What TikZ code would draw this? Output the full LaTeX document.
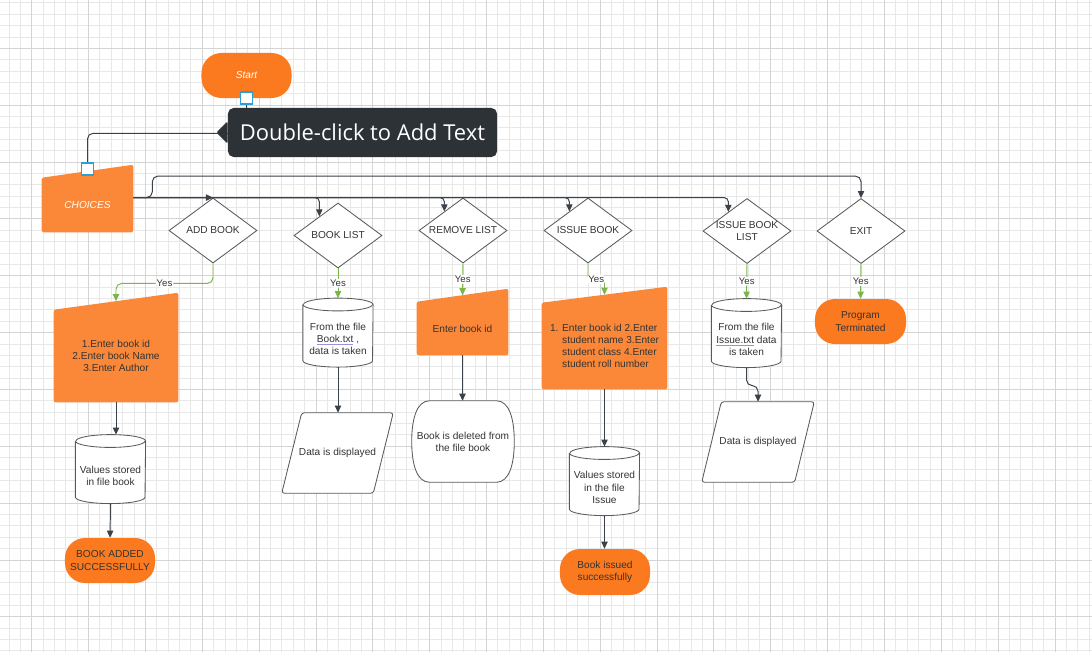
\documentclass[tikz,border=0pt]{standalone}
\usepackage{fontspec}
\setmainfont{Liberation Sans}
\newfontfamily\tipfont{Open Sans}
\usetikzlibrary{arrows.meta,positioning,shapes.geometric,calc}

\definecolor{orterm}{HTML}{FC7A1F}
\definecolor{orin}{HTML}{FA8838}
\definecolor{ink}{HTML}{333333}
\definecolor{wire}{HTML}{3B4148}
\definecolor{edge}{HTML}{5A5A5A}
\definecolor{leaf}{HTML}{7AB648}
\definecolor{tipbg}{HTML}{2D3237}
\definecolor{pick}{HTML}{2A9FD8}
\definecolor{gridminor}{HTML}{E8E8E8}
\definecolor{gridmajor}{HTML}{D4D4D4}
\definecolor{linkline}{HTML}{9A8FD8}

\pgfdeclarelayer{background}
\pgfsetlayers{background,main}

\newcommand{\lucid}{\fontsize{7.2pt}{8.7pt}\selectfont}
\newlength{\lnkwd}
\newcommand{\lnk}[1]{\settowidth{\lnkwd}{#1}\rlap{\color{linkline}\rule[-1.6pt]{\lnkwd}{0.6pt}}#1}

% outlines drawn round a node
\newcommand{\manualtop}[2]{%
  \fill[orin, rounded corners=1.5pt] (#1.south west) -- (#1.north west)
    -- ([yshift=#2]#1.north east) -- (#1.south east) -- cycle;}
\newcommand{\drum}[1]{%
  \draw[shapeline, fill=white] ([yshift=0.16cm]#1.north west) -- ([yshift=0.16cm]#1.south west)
    arc[start angle=180, end angle=360, x radius=0.87cm, y radius=0.16cm]
    -- ([yshift=0.16cm]#1.north east)
    arc[start angle=0, end angle=180, x radius=0.87cm, y radius=0.16cm];
  \draw[shapeline] ([yshift=0.16cm]#1.north west)
    arc[start angle=180, end angle=360, x radius=0.87cm, y radius=0.16cm];}
\newcommand{\slantbox}[2]{%
  \draw[shapeline, fill=white, rounded corners=2pt] (#1.south west) -- ([xshift=-#2]#1.south east)
    -- (#1.north east) -- ([xshift=#2]#1.north west) -- cycle;}
\newcommand{\bulgebox}[1]{%
  \draw[shapeline, fill=white] ([xshift=0.45cm]#1.north west) -- ([xshift=-0.45cm]#1.north east)
    .. controls ([xshift=-0.12cm]#1.north east) and ([yshift=0.55cm]#1.east) .. (#1.east)
    .. controls ([yshift=-0.55cm]#1.east) and ([xshift=-0.12cm]#1.south east) .. ([xshift=-0.45cm]#1.south east)
    -- ([xshift=0.45cm]#1.south west)
    .. controls ([xshift=0.12cm]#1.south west) and ([yshift=-0.55cm]#1.west) .. (#1.west)
    .. controls ([yshift=0.55cm]#1.west) and ([xshift=0.12cm]#1.north west) .. cycle;}

\tikzset{%
  % Specifications for style of arrows:
   flow/.style={
           draw=wire,
           line width=0.7pt,
           rounded corners=3pt,
           -{Triangle[length=5pt,width=4.5pt]},},
   yesflow/.style={
           flow,
           draw=leaf},
   yeslabel/.style={
           fill=white, inner sep=0.8pt, text=ink,
           font=\fontsize{6.8pt}{8pt}\selectfont},
   shapeline/.style={draw=edge, line width=0.6pt},
   minorgrid/.style={draw=gridminor, line width=0.6pt},
   majorgrid/.style={draw=gridmajor, line width=0.6pt},
  % Specifications for style of nodes:
   terminal/.style = {rectangle, rounded corners=0.5cm, fill=orterm,
                  minimum width=2.25cm, minimum height=1.125cm, inner sep=1pt,
                  text=ink, align=center, font=\lucid},
   decision/.style = {diamond, draw=edge, fill=white, line width=0.6pt,
                  minimum width=2.2cm, minimum height=1.625cm, aspect=1.35,
                  inner sep=0pt, text=ink, align=center, font=\lucid},
   inputbox/.style = {rectangle, inner sep=1pt,
                  text=ink, align=center, font=\lucid},
   drumbox/.style = {rectangle, minimum width=1.74cm, minimum height=1.39cm,
                  inner sep=1pt, text=ink, align=center, font=\lucid},
   datashape/.style = {rectangle, minimum height=2cm, inner sep=1pt,
                  text=ink, align=center, font=\lucid},
   grip/.style = {rectangle, draw=pick, fill=white, line width=1.2pt,
                  minimum size=0.3cm, inner sep=0pt},
   tooltip/.style = {rectangle, rounded corners=4pt, fill=tipbg, text=white,
                  minimum width=6.725cm, minimum height=1.225cm, inner sep=0pt,
                  font={\tipfont\fontsize{15.6pt}{18pt}\selectfont}},
}

\begin{document}
\begin{tikzpicture}[x=0.025cm, y=-0.025cm]
  \useasboundingbox (0,0) rectangle (1092,652);

  % Grid of the canvas
  \begin{pgfonlayer}{background}
    \fill[white] (0,0) rectangle (1092,652);
    \foreach \i in {0,...,95} \draw[minorgrid] ({8.96+11.37*\i},0) -- ++(0,652);
    \foreach \i in {0,...,57} \draw[minorgrid] (0,{2.82+11.37*\i}) -- ++(1092,0);
    \foreach \i in {0,...,18} \draw[majorgrid] ({31.7+56.85*\i},0) -- ++(0,652);
    \foreach \i in {0,...,10} \draw[majorgrid] (0,{48.3+56.85*\i}) -- ++(1092,0);
  \end{pgfonlayer}

  % Specification of nodes (position, etc.)
  \node (start_block)	[terminal, text=white, font=\lucid\itshape]	at (246.5,75.5) {Start};
  \node (choices_block)	[inputbox, text=white, font=\lucid\itshape, minimum width=2.275cm, minimum height=1.35cm]	at (87.5,205) {CHOICES};

  \node (addbook_block)	[decision]	at (213,230.5) {ADD BOOK};
  \node (booklist_block)	[decision]	at (338,235.5) {BOOK LIST};
  \node (removelist_block)	[decision]	at (463,230.5) {REMOVE LIST};
  \node (issuebook_block)	[decision]	at (588,230.5) {ISSUE BOOK};
  \node (issuelist_block)	[decision, inner xsep=-4pt]	at (747,231) {ISSUE BOOK\\LIST};
  \node (exit_block)	[decision]	at (861,231) {EXIT};

  \node (addin_block)	[inputbox, minimum width=3.1cm, minimum height=2.3cm]	at (116,356) {1.Enter book id\\2.Enter book Name\\3.Enter Author};
  \node (adddb_block)	[drumbox]	at (110.5,475.5) {Values stored\\in file book};
  \node (addok_block)	[terminal]	at (110,560.5) {BOOK ADDED\\SUCCESSFULLY};

  \node (listdb_block)	[drumbox]	at (338,339) {From the file\\\lnk{Book.txt} ,\\data is taken};
  \node (listshow_block)	[datashape, minimum width=2.775cm]	at (337.5,453) {Data is displayed};

  \node (removein_block)	[inputbox, minimum width=2.275cm, minimum height=1.325cm]	at (462.5,328.5) {Enter book id};
  \node (removedel_block)	[datashape, minimum width=2.55cm, minimum height=2.025cm]	at (463,441.5) {Book is deleted from\\the file book};

  \node (issuein_block)	[inputbox, align=left, minimum width=3.125cm, minimum height=2.15cm]	at (604.5,346) {1. Enter book id \lnk{2.Enter}\\\phantom{1. }student name \lnk{3.Enter}\\\phantom{1. }student class \lnk{4.Enter}\\\phantom{1. }student roll number};
  \node (issuedb_block)	[drumbox]	at (604.5,487.5) {Values stored\\in the file\\Issue};
  \node (issueok_block)	[terminal, minimum height=1.15cm]	at (605,572) {Book issued\\successfully};

  \node (ilistdb_block)	[drumbox]	at (746.5,339.5) {From the file\\\lnk{Issue.txt} data\\is taken};
  \node (ilistshow_block)	[datashape, minimum width=2.8cm]	at (758,442) {Data is displayed};

  \node (exitok_block)	[terminal, minimum width=2.275cm]	at (860.5,321.5) {Program\\Terminated};

  % Outlines of the drawn shapes
  \begin{pgfonlayer}{background}
    \manualtop{choices_block}{0.325cm}
    \manualtop{addin_block}{0.425cm}
    \manualtop{removein_block}{0.325cm}
    \manualtop{issuein_block}{0.4cm}
    \drum{adddb_block}
    \drum{listdb_block}
    \drum{issuedb_block}
    \drum{ilistdb_block}
    \slantbox{listshow_block}{0.5cm}
    \slantbox{ilistshow_block}{0.49cm}
    \bulgebox{removedel_block}
  \end{pgfonlayer}

  \coordinate (adddb_top) at ([yshift=0.32cm]adddb_block.north);
  \coordinate (listdb_top) at ([yshift=0.32cm]listdb_block.north);
  \coordinate (issuedb_top) at ([yshift=0.32cm]issuedb_block.north);
  \coordinate (ilistdb_top) at ([yshift=0.32cm]ilistdb_block.north);

  % Connectors
  \draw[flow, rounded corners=4pt] (start_block.south) -- ++(0,35)
    -| ($(choices_block.north west)!0.5!([yshift=0.325cm]choices_block.north east)$);
  \draw[flow] (choices_block.east |- addbook_block.north) -- (addbook_block.north);
  \foreach \d in {booklist_block,removelist_block,issuebook_block,issuelist_block}
    \draw[flow] (choices_block.east |- addbook_block.north) -| ($(\d.north)!0.42!(\d.west)$);
  \draw[flow, rounded corners=4pt] (choices_block.east |- addbook_block.north) -- ++(19,0)
    |- ($(exit_block.north)+(0,-22)$) -- (exit_block.north);

  \draw[yesflow, rounded corners=4pt] (addbook_block.south) -- ++(0,20)
    -| node[yeslabel, pos=0.25] {Yes} ($(addin_block.north west)!0.5!([yshift=0.425cm]addin_block.north east)$);
  \draw[yesflow] (booklist_block.south) -- node[yeslabel] {Yes} (listdb_top);
  \draw[yesflow] (removelist_block.south) -- node[yeslabel] {Yes}
    ($(removein_block.north west)!0.5!([yshift=0.325cm]removein_block.north east)$);
  \draw[yesflow, rounded corners=2pt] (issuebook_block.south) -- ++(0,16)
    -| node[yeslabel, pos=0.25] {Yes} ($(issuein_block.north west)!0.5!([yshift=0.4cm]issuein_block.north east)$);
  \draw[yesflow] (issuelist_block.south) -- node[yeslabel] {Yes} (ilistdb_top);
  \draw[yesflow] (exit_block.south) -- node[yeslabel] {Yes} (exitok_block.north);

  \draw[flow] (addin_block.south) -- (addin_block.south |- adddb_top);
  \draw[flow] (adddb_block.south) -- (addok_block.north);
  \draw[flow] (listdb_block.south) -- (listdb_block.south |- listshow_block.north);
  \draw[flow] (removein_block.south) -- (removein_block.south |- removedel_block.north);
  \draw[flow] (issuein_block.south) -- (issuein_block.south |- issuedb_top);
  \draw[flow] (issuedb_block.south) -- (issuedb_block.south |- issueok_block.north);
  \draw[flow, rounded corners=4pt] (ilistdb_block.south) -- ++(0,18) -| (ilistshow_block.north);

  % Editor overlay
  \node (tip_block)	[tooltip]	at (362.5,132.5) {Double-click to Add Text};
  \fill[tipbg, rounded corners=1pt] ([yshift=0.28cm]tip_block.west) -- ([xshift=-0.28cm]tip_block.west)
    -- ([yshift=-0.28cm]tip_block.west) -- cycle;
  \node (startgrip_block)	[grip]	at (start_block.south) {};
  \node (choicesgrip_block)	[grip]	at ($(choices_block.north west)!0.5!([yshift=0.325cm]choices_block.north east)+(0,-2)$) {};
\end{tikzpicture}
\end{document}
